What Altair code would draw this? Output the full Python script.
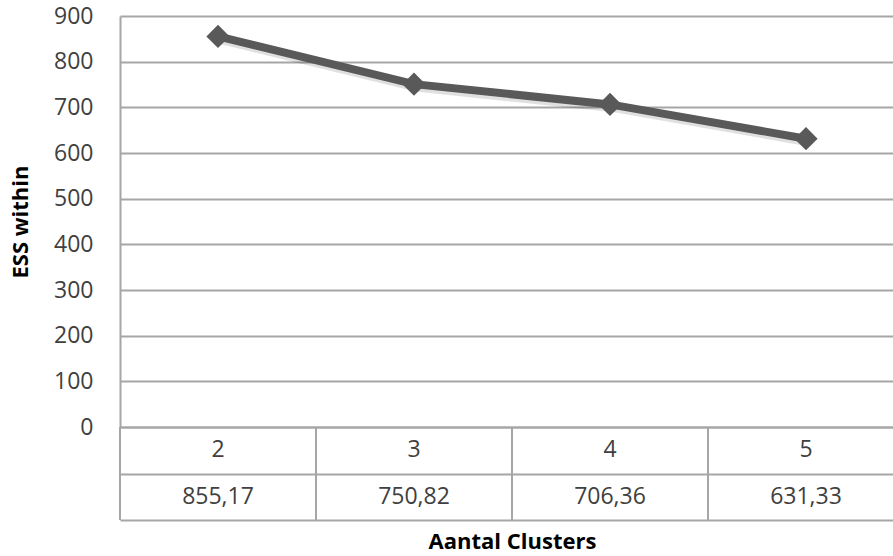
import altair as alt
import pandas as pd

# Elbow curve: within-cluster sum of squares per number of clusters
clusters = [2, 3, 4, 5]
ess_within = [855.17, 750.82, 706.36, 631.33]
y_ticks = [0, 100, 200, 300, 400, 500, 600, 700, 800, 900]
table_rows = ["k", "ess"]

FONT = "Open Sans"
GRID = "#a6a6a6"
LINE = "#595959"
TEXT = "#404040"

points = pd.DataFrame({"k": clusters, "ess": ess_within})

# Data table under the plot: one row with k, one row with the ESS values
cells = pd.DataFrame(
    {
        "k": clusters + clusters,
        "row": [table_rows[0]] * len(clusters) + [table_rows[1]] * len(clusters),
        "label": [str(k) for k in clusters]
        + [f"{v:.2f}".replace(".", ",") for v in ess_within],
    }
)

# Column borders of the data table sit halfway between categories
borders = pd.DataFrame({"edge": [k - 0.5 for k in clusters] + [clusters[-1] + 0.5]})

PLOT_W = 773   # visible part of the plot
RANGE_W = 784  # full category span (last column runs past the edge)

x_scale = alt.Scale(domain=[1.5, 5.5], range=[0, RANGE_W], nice=False, zero=False)


def x_enc(field):
    return alt.X(
        field,
        scale=x_scale,
        axis=alt.Axis(
            title="Aantal Clusters",
            labels=False,
            ticks=False,
            domain=False,
            grid=False,
            titlePadding=11,
            titleFont=FONT,
            titleFontSize=22,
            titleFontWeight="bold",
            titleColor="#000000",
        ),
    )


y_line = alt.Y(
    "ess:Q",
    scale=alt.Scale(domain=[0, 900], range=[411, 0], nice=False, zero=True),
    axis=alt.Axis(
        orient="left",
        values=y_ticks,
        title="ESS within",
        grid=True,
        gridColor=GRID,
        gridWidth=2,
        domain=True,
        domainColor=GRID,
        domainWidth=2,
        ticks=False,
        labelPadding=27,
        labelFont=FONT,
        labelFontSize=23,
        labelColor=TEXT,
        titleFont=FONT,
        titleFontSize=22,
        titleFontWeight="bold",
        titleColor="#000000",
        titlePadding=21,
    ),
)

shadow = alt.Chart(points).mark_line(
    color="#000000", strokeWidth=9, opacity=0.12, xOffset=2, yOffset=3
).encode(x=x_enc("k:Q"), y=y_line)

line = alt.Chart(points).mark_line(color=LINE, strokeWidth=8).encode(
    x=x_enc("k:Q"), y=y_line
)

markers = alt.Chart(points).mark_point(
    shape="diamond", filled=True, size=540, color=LINE, opacity=1
).encode(x=x_enc("k:Q"), y=y_line)

curve = alt.layer(shadow, line, markers)

row_scale = alt.Scale(domain=table_rows, range=[411, 504], paddingInner=0, paddingOuter=0)

table_text = alt.Chart(cells).mark_text(
    font=FONT, fontSize=23, color=TEXT, baseline="middle"
).encode(
    x=x_enc("k:Q"),
    y=alt.Y(
        "row:N",
        scale=row_scale,
        axis=alt.Axis(
            orient="left",
            title=None,
            labels=False,
            ticks=False,
            domain=False,
            grid=True,
            tickBand="extent",
            gridColor=GRID,
            gridWidth=2,
        ),
    ),
    text="label:N",
)

table_cols = alt.Chart(borders).mark_rule(color=GRID, strokeWidth=2).encode(
    x=x_enc("edge:Q"),
    y=alt.value(411),
    y2=alt.value(504),
)

table = alt.layer(table_text, table_cols)

chart = (
    alt.layer(curve, table)
    .resolve_scale(y="independent")
    .resolve_axis(y="independent")
    .properties(
        width=PLOT_W,
        height=504,
        padding={"left": 120, "top": 16, "right": 0, "bottom": 36},
        autosize=alt.AutoSizeParams(type="none"),
        background="#ffffff",
    )
    .configure_view(stroke=None)
)

chart.save("out.html", embed_options={"renderer": "svg", "actions": False})
